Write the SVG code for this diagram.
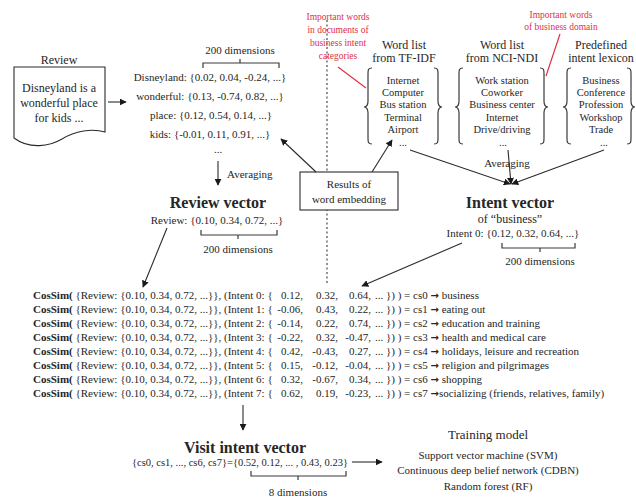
<svg xmlns="http://www.w3.org/2000/svg" width="636" height="501" viewBox="0 0 636 501">
<style>
text{font-family:"Liberation Serif","Times New Roman",serif;fill:#262626}
.s10{font-size:10.5px}
.s11{font-size:11px}
.s12{font-size:12px}
.b16{font-size:16px;font-weight:bold}
.red{font-size:9.5px;fill:#e0303f}
.mid{text-anchor:middle}
.end{text-anchor:end}
.ln{stroke:#2a2a2a;stroke-width:1.1;fill:none}
.arr{stroke:#2a2a2a;stroke-width:1.1;fill:none;marker-end:url(#ah)}
.br{stroke:#3a3a3a;stroke-width:1.2;fill:none}
.bd{font-weight:bold}
.ar{font-family:"DejaVu Sans",sans-serif;font-weight:bold;font-size:10px}
</style>
<defs>
<marker id="ah" viewBox="0 0 10 10" refX="9" refY="5" markerWidth="7" markerHeight="7" markerUnits="userSpaceOnUse" orient="auto">
<path d="M0,0 L10,5 L0,10 Z" fill="#1a1a1a"/>
</marker>
<path id="lb" d="M8,0 C4,0 4,2 4,6 L4,33 C4,37 2,39 0,39 C2,39 4,41 4,45 L4,70 C4,74 4,76 8,76"/>
<path id="rb" d="M0,0 C4,0 4,2 4,6 L4,33 C4,37 6,39 8,39 C6,39 4,41 4,45 L4,70 C4,74 4,76 0,76"/>
</defs>
<rect width="636" height="501" fill="#ffffff"/>

<!-- dashed separator -->
<line x1="327" y1="20" x2="327" y2="283" stroke="#777" stroke-width="1.6" stroke-dasharray="2,2.5"/>

<!-- Review document -->
<g id="review-doc">
<text class="s12 mid" x="59" y="64">Review</text>
<path class="ln" d="M14,67 L105,67 L105,132 C92,128 75,131 62,139 C50,146 30,150 14,138 Z" fill="#fff"/>
<text class="s12 mid" x="59" y="92">Disneyland is a</text>
<text class="s12 mid" x="59" y="107">wonderful place</text>
<text class="s12 mid" x="59" y="122">for kids ...</text>
</g>

<!-- word embeddings -->
<g id="embeddings">
<text class="s11 mid" x="240" y="54">200 dimensions</text>
<path class="br" d="M203,68 L203,63 L279,63 L279,68 M240,63 L240,59"/>
<text class="s11 mid" x="210" y="81">Disneyland: {0.02, 0.04, -0.24, ...}</text>
<text class="s11 mid" x="210" y="100">wonderful: {0.13, -0.74, 0.82, ...}</text>
<text class="s11 mid" x="211" y="119">place: {0.12, 0.54, 0.14, ...}</text>
<text class="s11 mid" x="210" y="138">kids: {-0.01, 0.11, 0.91, ...}</text>
<text class="s11 mid" x="218" y="153">...</text>
</g>

<!-- Review vector -->
<g id="review-vector">
<text class="s11" x="227" y="178">Averaging</text>
<text class="b16 mid" x="218" y="208">Review vector</text>
<text class="s11 mid" x="217" y="224">Review: {0.10, 0.34, 0.72, ...}</text>
<path class="br" d="M201,230 L201,235 L277,235 L277,230 M238,235 L238,239"/>
<text class="s11 mid" x="238" y="253">200 dimensions</text>
</g>

<!-- Results of word embedding -->
<g id="results-box">
<rect x="300" y="172" width="98" height="38" fill="#fff" stroke="#2a2a2a" stroke-width="1.1"/>
<text class="s11 mid" x="349" y="188">Results of</text>
<text class="s11 mid" x="349" y="203">word embedding</text>
</g>

<!-- red annotations -->
<g id="note-tfidf">
<text class="red mid" x="338" y="20">Important words</text>
<text class="red mid" x="338" y="33">in documents of</text>
<text class="red mid" x="338" y="46">business intent</text>
<text class="red mid" x="338" y="59">categories</text>
</g>
<g id="note-domain">
<text class="red mid" x="561" y="18">Important words</text>
<text class="red mid" x="561" y="30">of business domain</text>
</g>

<!-- Word list TF-IDF -->
<g id="list-tfidf">
<text class="s12 mid" x="404" y="49">Word list</text>
<text class="s12 mid" x="404" y="62">from TF-IDF</text>
<use href="#lb" class="br" x="364" y="68"/>
<use href="#rb" class="br" x="434" y="68"/>
<text class="s10 mid" x="403" y="84">Internet</text>
<text class="s10 mid" x="403" y="96">Computer</text>
<text class="s10 mid" x="403" y="108">Bus station</text>
<text class="s10 mid" x="403" y="121">Terminal</text>
<text class="s10 mid" x="403" y="133">Airport</text>
<text class="s10 mid" x="403" y="146" fill="#888">...</text>
</g>

<!-- Word list NCI-NDI -->
<g id="list-ncindi">
<text class="s12 mid" x="502" y="49">Word list</text>
<text class="s12 mid" x="502" y="62">from NCI-NDI</text>
<use href="#lb" class="br" x="455" y="68"/>
<use href="#rb" class="br" x="540" y="68"/>
<text class="s10 mid" x="502" y="84">Work station</text>
<text class="s10 mid" x="502" y="96">Coworker</text>
<text class="s10 mid" x="502" y="108">Business center</text>
<text class="s10 mid" x="502" y="121">Internet</text>
<text class="s10 mid" x="502" y="133">Drive/driving</text>
<text class="s10 mid" x="503" y="146" fill="#888">...</text>
</g>

<!-- Predefined intent lexicon -->
<g id="list-lexicon">
<text class="s12 mid" x="601" y="49">Predefined</text>
<text class="s12 mid" x="601" y="62">intent lexicon</text>
<use href="#lb" class="br" x="563" y="68"/>
<use href="#rb" class="br" x="627" y="68"/>
<text class="s10 mid" x="601" y="84">Business</text>
<text class="s10 mid" x="601" y="96">Conference</text>
<text class="s10 mid" x="601" y="108">Profession</text>
<text class="s10 mid" x="601" y="121">Workshop</text>
<text class="s10 mid" x="601" y="133">Trade</text>
<text class="s10 mid" x="604" y="146" fill="#888">...</text>
</g>

<!-- Intent vector -->
<g id="intent-vector">
<text class="s11 mid" x="507" y="167">Averaging</text>
<text class="b16 mid" x="510" y="208">Intent vector</text>
<text class="s12 mid" x="510" y="223">of “business”</text>
<text class="s11 mid" x="513" y="237">Intent 0: {0.12, 0.32, 0.64, ...}</text>
<path class="br" d="M502,243 L502,248 L575,248 L575,243 M540,248 L540,252"/>
<text class="s11 mid" x="540" y="265">200 dimensions</text>
</g>

<!-- Cosine similarity -->
<g id="cossim" class="s11">
<text x="33" y="299"><tspan class="bd">CosSim(</tspan> {Review: {0.10, 0.34, 0.72, ...}}, (Intent 0: {</text>
<text x="33" y="313"><tspan class="bd">CosSim(</tspan> {Review: {0.10, 0.34, 0.72, ...}}, (Intent 1: {</text>
<text x="33" y="327"><tspan class="bd">CosSim(</tspan> {Review: {0.10, 0.34, 0.72, ...}}, (Intent 2: {</text>
<text x="33" y="341"><tspan class="bd">CosSim(</tspan> {Review: {0.10, 0.34, 0.72, ...}}, (Intent 3: {</text>
<text x="33" y="355"><tspan class="bd">CosSim(</tspan> {Review: {0.10, 0.34, 0.72, ...}}, (Intent 4: {</text>
<text x="33" y="369"><tspan class="bd">CosSim(</tspan> {Review: {0.10, 0.34, 0.72, ...}}, (Intent 5: {</text>
<text x="33" y="383"><tspan class="bd">CosSim(</tspan> {Review: {0.10, 0.34, 0.72, ...}}, (Intent 6: {</text>
<text x="33" y="397"><tspan class="bd">CosSim(</tspan> {Review: {0.10, 0.34, 0.72, ...}}, (Intent 7: {</text>

<g class="end">
<text x="303" y="299">0.12,</text><text x="338" y="299">0.32,</text><text x="371" y="299">0.64,</text>
<text x="303" y="313">-0.06,</text><text x="338" y="313">0.43,</text><text x="371" y="313">0.22,</text>
<text x="303" y="327">-0.14,</text><text x="338" y="327">0.22,</text><text x="371" y="327">0.74,</text>
<text x="303" y="341">-0.22,</text><text x="338" y="341">0.32,</text><text x="371" y="341">-0.47,</text>
<text x="303" y="355">0.42,</text><text x="338" y="355">-0.43,</text><text x="371" y="355">0.27,</text>
<text x="303" y="369">0.15,</text><text x="338" y="369">-0.12,</text><text x="371" y="369">-0.04,</text>
<text x="303" y="383">0.32,</text><text x="338" y="383">-0.67,</text><text x="371" y="383">0.34,</text>
<text x="303" y="397">0.62,</text><text x="338" y="397">0.19,</text><text x="371" y="397">-0.23,</text>
</g>

<text x="375" y="299">... }) ) = cs0 <tspan class="ar">→</tspan> business</text>
<text x="375" y="313">... }) ) = cs1 <tspan class="ar">→</tspan> eating out</text>
<text x="375" y="327">... }) ) = cs2 <tspan class="ar">→</tspan> education and training</text>
<text x="375" y="341">... }) ) = cs3 <tspan class="ar">→</tspan> health and medical care</text>
<text x="375" y="355">... }) ) = cs4 <tspan class="ar">→</tspan> holidays, leisure and recreation</text>
<text x="375" y="369">... }) ) = cs5 <tspan class="ar">→</tspan> religion and pilgrimages</text>
<text x="375" y="383">... }) ) = cs6 <tspan class="ar">→</tspan> shopping</text>
<text x="375" y="397">... }) ) = cs7 <tspan class="ar">→</tspan>socializing (friends, relatives, family)</text>
</g>

<!-- Visit intent vector -->
<g id="visit-intent">
<text class="b16 mid" x="245" y="453">Visit intent vector</text>
<text class="mid" x="240" y="466" font-size="10.5px">{cs0, cs1, ..., cs6, cs7}={0.52, 0.12, ... , 0.43, 0.23}</text>
<path class="br" d="M251,471 L251,476 L346,476 L346,471 M298,476 L298,480"/>
<text class="s11 mid" x="298" y="496">8 dimensions</text>
</g>

<!-- Training model -->
<g id="training-model">
<text class="mid" x="488" y="439" font-size="13px">Training model</text>
<text class="s11 mid" x="488" y="459">Support vector machine (SVM)</text>
<text class="s11 mid" x="488" y="474">Continuous deep belief network (CDBN)</text>
<text class="s11 mid" x="488" y="490">Random forest (RF)</text>
</g>

<!-- connectors -->
<g id="connectors">
<line class="arr" x1="108" y1="102" x2="126" y2="102"/>
<line class="arr" x1="218" y1="161" x2="218" y2="185"/>
<line class="arr" x1="316" y1="172" x2="281" y2="139"/>
<line class="arr" x1="372" y1="172" x2="392" y2="140"/>
<line x1="338" y1="67" x2="366" y2="88" stroke="#e0303f" stroke-width="1.2"/>
<line x1="560" y1="34" x2="546" y2="76" stroke="#e0303f" stroke-width="1.2"/>
<line class="arr" x1="410" y1="150" x2="510" y2="184"/>
<line class="arr" x1="604" y1="150" x2="512" y2="184"/>
<line class="arr" x1="508" y1="150" x2="511" y2="184"/>
<line class="arr" x1="167" y1="228" x2="143" y2="287"/>
<line class="arr" x1="462" y1="243" x2="362" y2="286"/>
<line class="arr" x1="243" y1="405" x2="243" y2="430"/>
<line class="arr" x1="352" y1="462" x2="382" y2="462"/>
</g>
</svg>
